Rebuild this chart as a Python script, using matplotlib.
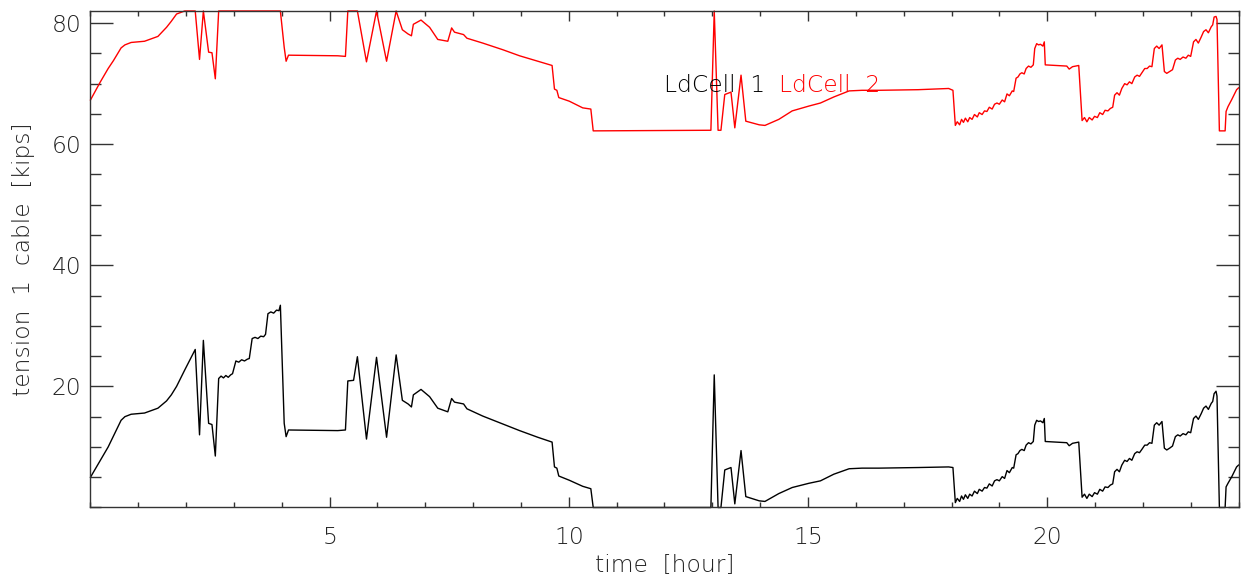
import matplotlib
matplotlib.use("Agg")
import matplotlib.pyplot as plt
from matplotlib.ticker import MultipleLocator

# time [hour]
time_hr = [
    0.00, 0.20, 0.37, 0.48, 0.64, 0.72, 0.85, 1.13, 1.41, 1.59, 1.69, 1.80, 1.97,
    2.19, 2.28, 2.36, 2.47, 2.54, 2.61, 2.68, 2.73, 2.78, 2.83, 2.88, 2.93, 2.97,
    3.04, 3.10, 3.16, 3.22, 3.28, 3.32, 3.38, 3.44, 3.50, 3.56, 3.62, 3.66,
    3.71, 3.77, 3.83, 3.89, 3.94, 3.97, 4.05, 4.09, 4.14, 5.17, 5.33,
    5.38, 5.50, 5.58, 5.77, 5.98, 6.19, 6.39, 6.52, 6.64, 6.71, 6.75, 6.91,
    7.09, 7.26, 7.47, 7.55, 7.61, 7.80, 7.87, 8.20, 8.62, 8.97, 9.35, 9.65,
    9.70, 9.75, 9.79, 10.01, 10.29, 10.46, 10.51, 12.97, 13.04, 13.12, 13.18,
    13.26, 13.39, 13.47, 13.60, 13.70, 13.98, 14.10, 14.39, 14.67, 15.02,
    15.26, 15.54, 15.86, 16.13, 16.48, 17.30, 17.94, 18.03, 18.08,
    18.12, 18.17, 18.21, 18.25, 18.29, 18.34, 18.38, 18.43, 18.48, 18.54,
    18.58, 18.64, 18.69, 18.74, 18.79, 18.85, 18.90, 18.95, 19.00, 19.06,
    19.11, 19.16, 19.21, 19.27, 19.30, 19.35, 19.39, 19.43, 19.47, 19.52,
    19.56, 19.61, 19.66, 19.71, 19.74, 19.78, 19.82, 19.86, 19.91, 19.94,
    19.96, 20.17, 20.41, 20.46, 20.53, 20.66,
    20.73, 20.78, 20.83, 20.88, 20.94, 20.99, 21.05, 21.10, 21.16, 21.21,
    21.27, 21.32, 21.37, 21.41, 21.46, 21.51, 21.56, 21.62, 21.67, 21.72,
    21.77, 21.83, 21.88, 21.93, 21.98, 22.04, 22.09, 22.14, 22.19, 22.24,
    22.29, 22.34, 22.40, 22.45, 22.50, 22.56, 22.62, 22.68, 22.73, 22.78,
    22.84, 22.90, 22.95, 23.00, 23.06, 23.11, 23.16, 23.22, 23.27, 23.32,
    23.37, 23.43, 23.46, 23.49, 23.53, 23.55, 23.60, 23.72, 23.74, 23.78,
    23.86, 23.96, 24.00,
]

# load cell 1 tension [kips]
ldcell1 = [
    5.0, 7.7, 10.0, 11.8, 14.4, 15.0, 15.4, 15.6, 16.4, 17.6, 18.6, 20.0, 22.7,
    26.1, 12.0, 27.6, 13.9, 13.7, 8.5, 21.3, 21.7, 21.4, 21.8, 21.5, 21.9, 22.1,
    24.2, 24.0, 24.4, 24.2, 24.5, 24.6, 27.9, 28.1, 27.9, 28.3, 28.2, 28.6,
    32.0, 32.3, 32.1, 32.6, 32.5, 33.4, 13.9, 11.7, 12.8, 12.7, 12.8,
    20.9, 21.0, 24.9, 11.3, 24.8, 11.6, 25.2, 17.7, 17.1, 16.6, 18.6, 19.5,
    18.3, 16.4, 15.8, 18.0, 17.4, 17.1, 16.3, 15.1, 13.8, 12.7, 11.6, 10.8,
    6.7, 6.5, 5.2, 4.5, 3.5, 3.1, 0.0, 0.0, 21.9, 0.0, 0.0,
    6.2, 6.6, 0.6, 9.4, 1.8, 1.1, 1.0, 2.3, 3.3, 4.0,
    4.4, 5.5, 6.4, 6.5, 6.5, 6.6, 6.7, 6.6, 0.8,
    1.5, 1.0, 1.9, 1.35, 2.1, 1.5, 2.2, 1.9, 2.7, 2.3,
    3.0, 2.7, 3.3, 3.2, 3.9, 3.55, 4.4, 4.6, 4.4, 5.1,
    4.8, 6.1, 5.75, 6.6, 6.5, 8.7, 8.9, 9.4, 9.6, 9.4,
    10.3, 10.7, 10.5, 10.9, 13.6, 14.4, 14.2, 14.3, 14.0, 14.7,
    10.9, 10.8, 10.7, 10.2, 10.6, 10.8,
    1.7, 2.2, 1.5, 2.2, 1.8, 2.45, 2.2, 3.0, 2.7, 3.4,
    3.3, 3.7, 3.9, 5.9, 6.3, 5.9, 7.0, 7.8, 7.6, 8.1,
    7.8, 8.9, 9.2, 9.05, 9.6, 10.3, 10.3, 10.7, 10.6, 13.6,
    14.0, 13.6, 14.2, 9.8, 9.5, 9.8, 10.15, 11.7, 12.0, 11.8,
    12.2, 12.0, 12.5, 12.35, 14.7, 15.1, 14.55, 15.5, 16.4, 16.75,
    16.2, 17.2, 17.5, 18.8, 19.2, 18.4, 0.0, 0.0, 3.4, 4.0,
    5.1, 6.7, 7.0,
]

# load cell 2 tension [kips] (saturates at 82)
ldcell2 = [
    67.3, 70.2, 72.5, 73.8, 75.9, 76.4, 76.8, 77.0, 77.8, 79.3, 80.3, 81.5, 82.0,
    82.0, 74.0, 82.0, 75.2, 75.1, 70.8, 82.0, 82.0, 82.0, 82.0, 82.0, 82.0, 82.0,
    82.0, 82.0, 82.0, 82.0, 82.0, 82.0, 82.0, 82.0, 82.0, 82.0, 82.0, 82.0,
    82.0, 82.0, 82.0, 82.0, 82.0, 82.0, 76.0, 73.7, 74.7, 74.6, 74.5,
    82.0, 82.0, 82.0, 73.6, 82.0, 73.7, 82.0, 78.9, 78.2, 77.9, 79.8, 80.5,
    79.3, 77.3, 77.0, 79.2, 78.5, 78.1, 77.5, 76.7, 75.6, 74.6, 73.7, 73.0,
    69.1, 68.9, 67.7, 67.1, 66.0, 65.8, 62.2, 62.3, 82.0, 62.3, 62.3,
    68.2, 68.6, 62.7, 71.4, 63.8, 63.2, 63.1, 64.1, 65.5, 66.3,
    66.8, 67.8, 68.8, 68.9, 68.9, 69.0, 69.2, 68.9, 63.1,
    63.7, 63.2, 64.1, 63.6, 64.3, 63.7, 64.4, 64.1, 64.9, 64.5,
    65.2, 64.9, 65.5, 65.4, 66.1, 65.8, 66.6, 66.8, 66.6, 67.3,
    67.0, 68.3, 68.0, 68.8, 68.7, 70.9, 71.1, 71.6, 71.8, 71.6,
    72.5, 72.9, 72.7, 73.1, 75.8, 76.6, 76.4, 76.5, 76.2, 76.9,
    73.1, 73.0, 72.9, 72.4, 72.8, 73.0,
    63.9, 64.4, 63.7, 64.4, 64.0, 64.6, 64.4, 65.2, 64.9, 65.6,
    65.5, 65.9, 66.1, 68.1, 68.5, 68.1, 69.2, 70.0, 69.8, 70.3,
    70.0, 71.1, 71.4, 71.2, 71.8, 72.5, 72.5, 72.9, 72.8, 75.8,
    76.2, 75.8, 76.4, 72.0, 71.7, 72.0, 72.3, 73.9, 74.2, 74.0,
    74.4, 74.2, 74.7, 74.5, 76.9, 77.3, 76.7, 77.7, 78.6, 78.9,
    78.4, 79.4, 79.7, 81.0, 81.1, 80.6, 62.2, 62.2, 65.4, 66.2,
    67.4, 69.0, 69.3,
]

labels = ["LdCell  1", "LdCell  2"]
colors = ["black", "red"]

plt.rcParams["font.family"] = ["DejaVu Sans"]
plt.rcParams["font.weight"] = 200
plt.rcParams["axes.labelweight"] = 200
plt.rcParams["font.size"] = 16.8

fig = plt.figure(figsize=(12.41, 5.84), dpi=100)
ax = fig.add_axes([0.0729, 0.131, 0.9251, 0.8502])

ax.plot(time_hr, ldcell1, color=colors[0], lw=1.0, clip_on=False)
ax.plot(time_hr, ldcell2, color=colors[1], lw=1.0, clip_on=False)

ax.set_xlim(0, 24)
ax.set_ylim(0, 82)
ax.set_xticks([5, 10, 15, 20])
ax.set_yticks([20, 40, 60, 80])
ax.xaxis.set_minor_locator(MultipleLocator(1))
ax.yaxis.set_minor_locator(MultipleLocator(5))

ax.tick_params(axis="both", which="both", direction="in", top=True, right=True,
               colors="#333333", labelcolor="#222222", width=1.0)
ax.tick_params(axis="x", which="major", length=7.2, pad=13.5)
ax.tick_params(axis="x", which="minor", length=3.6)
ax.tick_params(axis="y", which="major", length=16.6, pad=6.8)
ax.tick_params(axis="y", which="minor", length=7.9)
for sp in ax.spines.values():
    sp.set_color("#333333")
    sp.set_linewidth(1.0)

ax.set_xlabel("time  [hour]", color="#222222", fontweight=200)
ax.set_ylabel("tension  1  cable  [kips]", color="#222222", fontweight=200)
ax.xaxis.set_label_coords(0.5, -0.092)
ax.yaxis.set_label_coords(-0.048, 0.5)

# legend written as plain text like the original
ax.text(12.0, 68.6, labels[0], color=colors[0], va="baseline")
ax.text(14.4, 68.6, labels[1], color=colors[1], va="baseline")

fig.savefig("out.png", dpi=100)
